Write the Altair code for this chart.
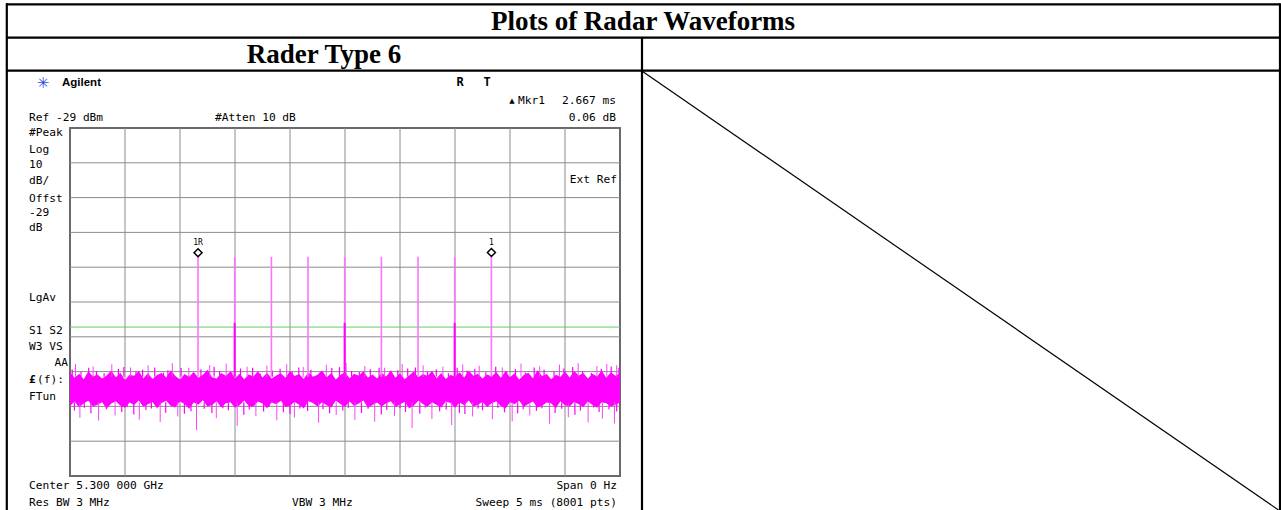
import altair as alt
import pandas as pd

# ---------------------------------------------------------------- data
# zero-span sweep: 5 ms across the screen, ref level -29 dBm, 10 dB/div
sweep_ms = 5.0
ref_dbm = -29.0
db_per_div = 10.0

# radar pulses (time in ms, peak level in dBm)
pulse_t = [1.164, 1.497, 1.831, 2.164, 2.497, 2.831, 3.164, 3.497, 3.831]
pulse_db = [-66.0, -66.1, -66.0, -66.0, -66.1, -66.0, -66.0, -66.1, -65.94]
pulse_strong = [False, True, False, False, True, False, False, True, False]

# markers 1R (reference) and 1 (delta)
marker_name = ["1R", "1"]
marker_t = [1.164, 3.831]
marker_db = [-66.0, -65.94]

# display line
display_line_db = [-86.2]

# noise floor envelope, 121 samples across the sweep
noise_hi = [
    -99.2, -100.8, -99.6, -101.2, -98.9, -100.4, -99.8, -101.0, -100.1, -98.7,
    -100.6, -99.3, -101.4, -99.9, -100.2, -98.8, -100.9, -99.5, -101.1, -100.0,
    -99.4, -100.7, -98.6, -100.3, -101.3, -99.7, -100.5, -99.1, -100.8, -99.9,
    -98.5, -100.6, -101.0, -99.4, -100.2, -99.0, -100.9, -99.6, -101.2, -99.8,
    -100.4, -98.9, -100.7, -99.3, -101.0, -100.1, -99.5, -100.8, -98.8, -100.3,
    -99.7, -101.1, -99.2, -100.5, -99.9, -98.7, -100.6, -99.4, -101.3, -100.0,
    -99.1, -100.9, -99.6, -100.2, -98.9, -100.7, -99.8, -101.0, -99.3, -100.4,
    -98.6, -100.8, -99.5, -101.2, -100.1, -99.0, -100.6, -99.7, -100.3, -98.8,
    -100.9, -99.4, -101.1, -99.9, -100.5, -99.2, -100.7, -98.7, -100.2, -99.6,
    -101.0, -99.8, -100.4, -99.1, -100.8, -98.9, -100.6, -99.5, -101.3, -100.0,
    -99.3, -100.9, -98.6, -100.3, -99.7, -101.2, -99.9, -100.5, -99.0, -100.7,
    -98.8, -100.1, -99.4, -101.0, -99.6, -100.4, -98.7, -100.8, -99.2, -100.2,
    -99.5,
]
noise_lo = [
    -108.9, -107.6, -109.3, -108.1, -107.4, -109.0, -108.5, -107.8, -109.6, -108.2,
    -107.5, -108.8, -109.4, -107.9, -108.6, -107.3, -109.1, -108.4, -107.7, -109.5,
    -108.0, -107.4, -108.9, -109.2, -107.6, -108.3, -109.7, -107.9, -108.5, -107.2,
    -109.0, -108.6, -107.5, -109.3, -108.1, -107.8, -109.4, -108.7, -107.3, -108.9,
    -109.1, -107.6, -108.2, -109.5, -107.9, -108.4, -107.4, -109.2, -108.8, -107.7,
    -108.5, -109.6, -107.5, -108.0, -109.0, -107.8, -108.7, -109.3, -107.4, -108.3,
    -109.1, -107.6, -108.9, -108.2, -107.3, -109.4, -108.6, -107.9, -109.0, -108.1,
    -107.5, -109.2, -108.4, -107.7, -109.5, -108.8, -107.4, -108.3, -109.1, -107.8,
    -108.6, -109.3, -107.6, -108.0, -109.4, -107.9, -108.7, -107.3, -109.0, -108.5,
    -107.7, -109.2, -108.1, -107.5, -108.9, -109.6, -107.8, -108.4, -107.4, -109.1,
    -108.3, -107.6, -109.3, -108.8, -107.9, -108.2, -109.5, -107.5, -108.7, -109.0,
    -107.7, -108.4, -109.2, -107.6, -108.6, -109.4, -107.8, -108.1, -109.0, -108.5,
    -107.9,
]
noise_top = -100.5
noise_bottom = -107.8

# tall noise peaks above and deep dips below the floor
spike_up_t = [0.05, 0.21, 0.38, 0.55, 0.71, 0.93, 1.08, 1.27, 1.42, 1.61,
              1.79, 1.97, 2.12, 2.33, 2.51, 2.68, 2.86, 3.02, 3.21, 3.39,
              3.57, 3.72, 3.93, 4.10, 4.27, 4.45, 4.62, 4.79, 4.88, 4.97]
spike_up_db = [-96.8, -97.5, -96.9, -97.8, -97.2, -96.6, -97.9, -97.1, -96.7, -97.6,
               -97.3, -96.9, -97.7, -97.0, -96.5, -97.4, -97.9, -96.8, -97.2, -97.6,
               -96.9, -97.3, -97.8, -96.7, -97.5, -97.0, -96.6, -97.4, -96.8, -97.2]
spike_dn_t = [0.09, 0.26, 0.41, 0.63, 0.82, 0.98, 1.15, 1.33, 1.52, 1.69,
              1.88, 2.04, 2.26, 2.42, 2.59, 2.77, 2.95, 3.11, 3.29, 3.47,
              3.66, 3.84, 4.02, 4.18, 4.36, 4.53, 4.71, 4.84, 4.95]
spike_dn_db = [-112.3, -113.1, -111.6, -112.8, -113.5, -111.9, -115.8, -112.4, -114.6, -111.8,
               -113.0, -112.2, -113.7, -111.5, -112.9, -113.4, -111.7, -115.2, -112.6, -114.4,
               -111.9, -112.7, -113.3, -111.6, -114.0, -112.1, -113.6, -112.5, -113.9]

# short fringe peaks / dips that roughen the edges of the floor
fringe_up_t = [0.02, 0.10, 0.17, 0.24, 0.31, 0.44, 0.49, 0.60, 0.66, 0.77,
               0.85, 0.89, 1.01, 1.12, 1.19, 1.31, 1.36, 1.47, 1.55, 1.66,
               1.73, 1.84, 1.91, 2.02, 2.08, 2.19, 2.27, 2.38, 2.45, 2.56,
               2.63, 2.73, 2.81, 2.91, 2.98, 3.07, 3.14, 3.25, 3.33, 3.44,
               3.52, 3.61, 3.68, 3.78, 3.87, 3.97, 4.05, 4.14, 4.22, 4.31,
               4.40, 4.49, 4.57, 4.66, 4.74, 4.83, 4.92, 4.99]
fringe_up_db = [-98.4, -99.1, -97.9, -98.8, -99.5, -98.2, -97.7, -99.0, -98.5, -97.8,
                -99.3, -98.6, -98.0, -99.4, -98.3, -97.6, -98.9, -99.2, -98.1, -97.9,
                -99.6, -98.7, -98.2, -99.0, -97.8, -98.5, -99.3, -98.0, -97.7, -98.8,
                -99.1, -98.3, -97.9, -99.4, -98.6, -98.1, -97.8, -99.0, -98.4, -99.5,
                -97.9, -98.7, -98.2, -99.2, -97.6, -98.9, -98.3, -99.3, -97.8, -98.5,
                -99.0, -98.1, -97.7, -98.8, -99.4, -98.2, -97.5, -97.9]
fringe_dn_t = [0.04, 0.13, 0.19, 0.33, 0.47, 0.52, 0.58, 0.69, 0.74, 0.87,
               0.95, 1.04, 1.10, 1.22, 1.29, 1.39, 1.44, 1.58, 1.63, 1.76,
               1.81, 1.94, 2.00, 2.09, 2.16, 2.30, 2.36, 2.48, 2.53, 2.65,
               2.71, 2.83, 2.88, 3.00, 3.05, 3.18, 3.23, 3.36, 3.42, 3.54,
               3.59, 3.71, 3.75, 3.89, 3.95, 4.07, 4.12, 4.24, 4.29, 4.41,
               4.47, 4.59, 4.64, 4.76, 4.81, 4.90, 4.97]
fringe_dn_db = [-110.2, -109.4, -111.0, -109.8, -110.6, -109.2, -111.3, -110.0, -109.6, -110.8,
                -109.3, -111.1, -110.4, -109.7, -110.9, -109.5, -110.1, -111.4, -109.9, -110.5,
                -109.2, -110.7, -111.2, -109.6, -110.3, -109.8, -111.0, -110.2, -109.4, -110.9,
                -109.7, -111.3, -110.0, -109.5, -110.6, -111.1, -109.3, -110.4, -109.9, -110.8,
                -111.2, -109.6, -110.1, -109.4, -110.7, -111.0, -109.8, -110.3, -109.5, -110.9,
                -109.7, -111.4, -110.2, -109.3, -110.6, -109.9, -110.5]

# graticule
grid_t = [0.5, 1.0, 1.5, 2.0, 2.5, 3.0, 3.5, 4.0, 4.5]
grid_db = [-39, -49, -59, -69, -79, -89, -99, -109, -119]

# ---------------------------------------------------------------- layout
X0, Y0 = 70, 128          # top-left corner of the graticule
PW, PH = 550, 348         # graticule size
TOTAL_W, TOTAL_H = 1281, 510

MONO = "DejaVu Sans Mono"
MAGENTA = "#ff00ff"

xs = alt.Scale(domain=[0, sweep_ms], nice=False, zero=False)
ys = alt.Scale(domain=[ref_dbm - 10 * db_per_div, ref_dbm], nice=False, zero=False)

one = pd.DataFrame({"k": [0]})


def px(x):
    return x - X0


def py(y):
    return y - Y0


def label(txt, x, y, size=11.2, font=MONO, weight="normal", align="left",
          color="black", baseline="middle"):
    return alt.Chart(one).mark_text(
        text=txt, font=font, fontSize=size, fontWeight=weight, align=align,
        baseline=baseline, color=color,
    ).encode(x=alt.value(px(x)), y=alt.value(py(y)))


def line(x1, y1, x2, y2, w=2.2, color="black"):
    return alt.Chart(one).mark_rule(color=color, strokeWidth=w).encode(
        x=alt.value(px(x1)), y=alt.value(py(y1)),
        x2=alt.value(px(x2)), y2=alt.value(py(y2)),
    )


def vrules(t, db, base, color, width=1):
    df = pd.DataFrame({"t": t, "db": db, "base": base})
    return alt.Chart(df).mark_rule(color=color, strokeWidth=width).encode(
        x=alt.X("t:Q", scale=xs, axis=None),
        y=alt.Y("db:Q", scale=ys, axis=None),
        y2="base:Q",
    )


# ---------------------------------------------------------------- plot
grid_v = alt.Chart(pd.DataFrame({"t": grid_t})).mark_rule(
    color="#8c8c8c", strokeWidth=1
).encode(x=alt.X("t:Q", scale=xs, axis=None))

grid_h = alt.Chart(pd.DataFrame({"db": grid_db})).mark_rule(
    color="#8c8c8c", strokeWidth=1
).encode(y=alt.Y("db:Q", scale=ys, axis=None))

dline = alt.Chart(pd.DataFrame({"db": display_line_db})).mark_rule(
    color="#5ccf5c", strokeWidth=1
).encode(y=alt.Y("db:Q", scale=ys, axis=None))

noise_df = pd.DataFrame({
    "t": [i * sweep_ms / (len(noise_hi) - 1) for i in range(len(noise_hi))],
    "hi": noise_hi,
    "lo": noise_lo,
})
noise = alt.Chart(noise_df).mark_area(color=MAGENTA, opacity=1).encode(
    x=alt.X("t:Q", scale=xs, axis=None),
    y=alt.Y("hi:Q", scale=ys, axis=None),
    y2="lo:Q",
)

spikes_up = vrules(spike_up_t, spike_up_db, noise_top, "#ff40ff")
spikes_dn = vrules(spike_dn_t, spike_dn_db, noise_bottom, "#ff40ff")
fringe_up = vrules(fringe_up_t, fringe_up_db, noise_top, MAGENTA, 1.2)
fringe_dn = vrules(fringe_dn_t, fringe_dn_db, noise_bottom, MAGENTA, 1.2)

pulse_df = pd.DataFrame({"t": pulse_t, "db": pulse_db, "strong": pulse_strong,
                         "base": noise_top})
pulses = alt.Chart(pulse_df).mark_rule(color="#ff73ff", strokeWidth=1.6).encode(
    x=alt.X("t:Q", scale=xs, axis=None),
    y=alt.Y("db:Q", scale=ys, axis=None),
    y2="base:Q",
)
strong_df = pulse_df[pulse_df["strong"]].assign(top=-85.0)
pulses_strong = alt.Chart(strong_df).mark_rule(color=MAGENTA, strokeWidth=2).encode(
    x=alt.X("t:Q", scale=xs, axis=None),
    y=alt.Y("top:Q", scale=ys, axis=None),
    y2="base:Q",
)

mk_df = pd.DataFrame({"name": marker_name, "t": marker_t, "db": marker_db})
diamonds = alt.Chart(mk_df).mark_point(
    shape="M0,-2L1,-1L0,0L-1,-1Z", size=64, fill="white", fillOpacity=1,
    stroke="black", strokeWidth=1.5, opacity=1,
).encode(
    x=alt.X("t:Q", scale=xs, axis=None),
    y=alt.Y("db:Q", scale=ys, axis=None),
)
mk_text = alt.Chart(mk_df).mark_text(
    font=MONO, fontSize=8, dy=-14, color="black"
).encode(
    x=alt.X("t:Q", scale=xs, axis=None),
    y=alt.Y("db:Q", scale=ys, axis=None),
    text="name:N",
)

# ---------------------------------------------------------------- annotations
texts = [
    label("Plots of Radar Waveforms", 643, 30, size=27, font="Liberation Serif",
          weight="bold", align="center", baseline="alphabetic"),
    label("Rader Type 6", 324, 63, size=27, font="Liberation Serif",
          weight="bold", align="center", baseline="alphabetic"),
    label("\u2733", 43, 83, size=15, font="DejaVu Sans", align="center", color="#2f4fe8"),
    label("Agilent", 62, 83, size=11.5, font="Liberation Sans", weight="bold"),
    label("R", 460, 82, size=12, weight="bold", align="center"),
    label("T", 487, 82, size=12, weight="bold", align="center"),
    label("\u25b2", 512, 101, size=7, font="DejaVu Sans", align="center"),
    label("Mkr1", 518, 101),
    label("2.667 ms", 616, 101, align="right"),
    label("Ref -29 dBm", 29, 118),
    label("#Atten 10 dB", 215, 118),
    label("0.06 dB", 616, 118, align="right"),
    label("#Peak", 29, 133),
    label("Log", 29, 150),
    label("10", 29, 165),
    label("dB/", 29, 181),
    label("Offst", 29, 199),
    label("-29", 29, 213),
    label("dB", 29, 228),
    label("LgAv", 29, 298),
    label("S1  S2", 29, 331),
    label("W3  VS", 29, 347),
    label("AA", 68, 363, align="right"),
    label("\u00a3", 29, 380, weight="bold"),
    label("(f):", 37, 380),
    label("FTun", 29, 397),
    label("Ext Ref", 617, 180, align="right"),
    label("Center 5.300 000 GHz", 29, 486),
    label("Res BW 3 MHz", 29, 503),
    label("VBW 3 MHz", 292, 503),
    label("Span 0 Hz", 617, 486, align="right"),
    label("Sweep 5 ms (8001 pts)", 617, 503, align="right"),
]

table = [
    line(6, 4.3, 1280, 4.3),
    line(6.8, 3.3, 6.8, TOTAL_H),
    line(1280, 3.3, 1280, TOTAL_H),
    line(6, 37.7, 1280, 37.7),
    line(6, 70.7, 1280, 70.7),
    line(642, 37.7, 642, TOTAL_H),
    line(643, 71.7, 1278.5, 510, w=1.2),
]

chart = alt.layer(
    grid_v, grid_h, dline, noise, spikes_up, spikes_dn, fringe_up, fringe_dn,
    pulses, pulses_strong, diamonds, mk_text, *texts, *table,
).properties(
    width=PW,
    height=PH,
    padding={"left": X0, "top": Y0, "right": TOTAL_W - X0 - PW,
             "bottom": TOTAL_H - Y0 - PH},
    autosize=alt.AutoSizeParams(type="none"),
    background="white",
).configure_view(stroke="#6a6a6a", strokeWidth=2)

chart.save("out.html", embed_options={"renderer": "svg", "actions": False})
